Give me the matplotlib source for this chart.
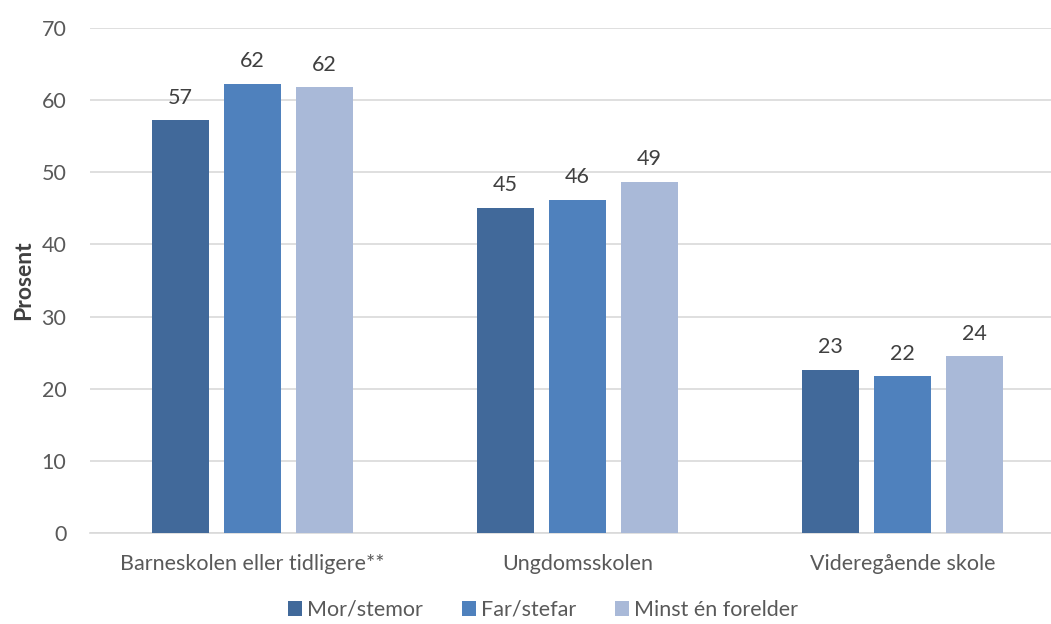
import matplotlib.pyplot as plt
import numpy as np

plt.rcParams['font.family'] = ['Lato', 'DejaVu Sans']

categories = ["Barneskolen eller tidligere**", "Ungdomsskolen", "Videregående skole"]
series_names = ["Mor/stemor", "Far/stefar", "Minst én forelder"]
mor = [57.2, 45.1, 22.6]
far = [62.3, 46.2, 21.7]
minst = [61.8, 48.7, 24.5]
labels_mor = ["57", "45", "23"]
labels_far = ["62", "46", "22"]
labels_minst = ["62", "49", "24"]

colors = ["#41699A", "#4F81BD", "#A9B9D8"]
text_color = "#595959"
fs = 15.5

fig = plt.figure(figsize=(10.51, 6.24), dpi=100)
ax = fig.add_axes([90 / 1051, 91 / 624, 975 / 1051, 505 / 624])

x = np.arange(len(categories))
width = 0.175
step = 0.2215
for i, (vals, labs) in enumerate([(mor, labels_mor), (far, labels_far), (minst, labels_minst)]):
    bars = ax.bar(x + (i - 1) * step, vals, width, color=colors[i], label=series_names[i], zorder=3)
    ax.bar_label(bars, labels=labs, padding=9, fontsize=fs, color="#404040")

ax.set_xlim(-0.5, 2.5)
ax.set_ylim(0, 70)
ax.set_yticks(range(0, 71, 10))
ax.set_xticks(x, categories)
ax.grid(axis='y', color="#D9D9D9", linewidth=1.2, zorder=0)
for s in ['top', 'right', 'left']:
    ax.spines[s].set_visible(False)
ax.spines['bottom'].set_color("#D9D9D9")
ax.spines['bottom'].set_linewidth(1.2)
ax.tick_params(axis='both', length=0, labelsize=fs, colors=text_color)
ax.tick_params(axis='y', pad=17)
ax.tick_params(axis='x', pad=15)
ax.set_ylabel("Prosent", fontsize=16.5, fontweight='bold', color="#404040", labelpad=5)

fig.legend(loc='center', bbox_to_anchor=(543 / 1051, 1 - 610 / 624), ncol=3, frameon=False,
           fontsize=fs, labelcolor=text_color, handlelength=0.65, handleheight=0.65,
           handletextpad=0.25, columnspacing=1.8)

fig.savefig("out.png", dpi=100)
